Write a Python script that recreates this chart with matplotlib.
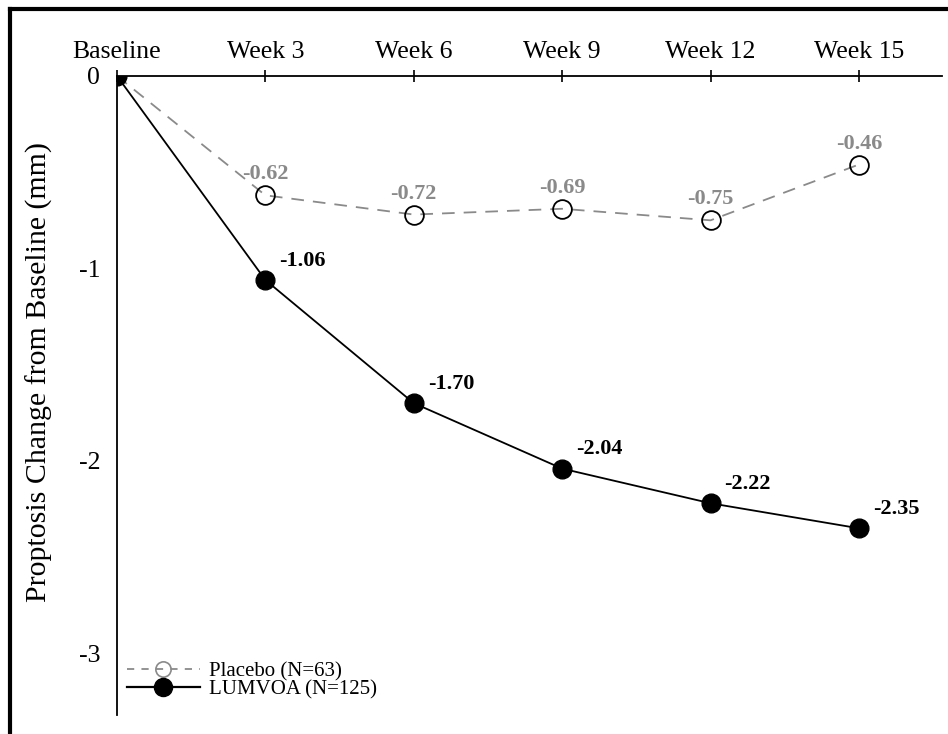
import numpy as np
import matplotlib
matplotlib.use("Agg")
import matplotlib.pyplot as plt
from matplotlib.lines import Line2D

plt.rcParams['font.family'] = ['Liberation Serif', 'DejaVu Serif']
plt.rcParams['axes.unicode_minus'] = False

# data
visits = ["Baseline", "Week 3", "Week 6", "Week 9", "Week 12", "Week 15"]
placebo = [0, -0.62, -0.72, -0.69, -0.75, -0.46]
lumvoa = [0, -1.06, -1.70, -2.04, -2.22, -2.35]
yticks = [0, -1, -2, -3]
ytick_labels = ["0", "-1", "-2", "-3"]

gray = "#8a8a8a"
xpos = np.arange(len(visits))

fig = plt.figure(figsize=(9.48, 7.34), dpi=100)
ax = fig.add_axes([0.1234, 0.0259, 0.8703, 0.8706])

# placebo - dashed gray with open circles
ax.plot(xpos, placebo, color=gray, lw=1.3, ls=(0, (7, 5)), zorder=2)
ax.plot(xpos[1:], placebo[1:], ls="none", marker="o", ms=13.5,
        mfc="none", mec="black", mew=1.3, zorder=3)

# LUMVOA - solid black with filled circles
ax.plot(xpos, lumvoa, color="black", lw=1.3, marker="o", ms=13.5,
        mfc="black", mec="black", zorder=4)

for x, v in zip(xpos[1:], placebo[1:]):
    ax.annotate("%.2f" % v, (x, v), xytext=(0, 15), textcoords="offset points",
                ha="center", va="center", fontsize=16, fontweight="bold",
                color=gray)
for x, v in zip(xpos[1:], lumvoa[1:]):
    ax.annotate("%.2f" % v, (x, v), xytext=(10, 14), textcoords="offset points",
                ha="left", va="center", fontsize=16, fontweight="bold",
                color="black")

ax.set_xlim(0, 5.56)
ax.set_ylim(-3.32, 0)

ax.xaxis.tick_top()
ax.set_xticks(xpos)
ax.set_xticklabels(visits, fontsize=18.5)
ax.tick_params(axis="x", direction="inout", length=9, width=1.2, pad=5)

ax.set_yticks(yticks)
ax.set_yticklabels(ytick_labels, fontsize=18.5)
ax.tick_params(axis="y", length=0, pad=12)
ax.set_ylabel("Proptosis Change from Baseline (mm)", fontsize=21.5)
ax.yaxis.set_label_coords(-0.078, 0.537)

for s in ["right", "bottom"]:
    ax.spines[s].set_visible(False)
for s in ["left", "top"]:
    ax.spines[s].set_linewidth(1.3)

handles = [
    Line2D([], [], color=gray, lw=1.3, ls=(0, (4, 4)), marker="o", ms=11,
           mfc="none", mec=gray, mew=1.2),
    Line2D([], [], color="black", lw=1.6, marker="o", ms=13,
           mfc="black", mec="black"),
]
ax.legend(handles, ["Placebo (N=63)", "LUMVOA (N=125)"], loc="lower left",
          bbox_to_anchor=(0.012, 0.025), frameon=False, fontsize=15,
          handlelength=3.5, handletextpad=0.45, labelspacing=-0.08,
          borderpad=0, borderaxespad=0)

# outer frame of the source figure (left and top edges only)
fig.add_artist(Line2D([0.0105, 0.0105], [0, 0.988], color="black", lw=3,
                      transform=fig.transFigure))
fig.add_artist(Line2D([0.0105, 1.0], [0.988, 0.988], color="black", lw=3,
                      transform=fig.transFigure))

fig.savefig("out.png", dpi=100)
